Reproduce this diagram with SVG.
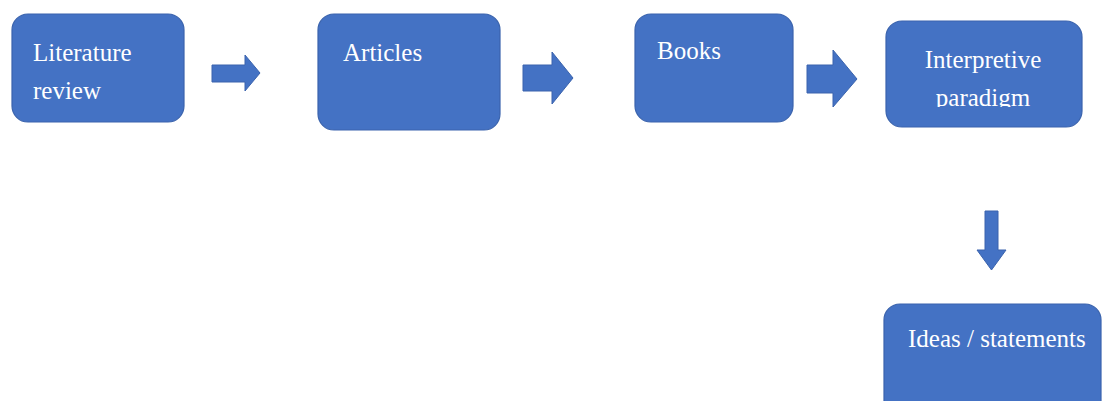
<svg xmlns="http://www.w3.org/2000/svg" width="1102" height="401" viewBox="0 0 1102 401">
<style>
.box{fill:#4472C4;stroke:#3A63AD;stroke-width:1.2}
.arr{fill:#4472C4;stroke:#3A63AD;stroke-width:1}
text{font-family:"Liberation Serif","Times New Roman",serif;font-size:25px;fill:#FFFFFF}
</style>
<defs>
<clipPath id="clip4"><rect x="886" y="21" width="196" height="86"/></clipPath>
</defs>
<rect width="1102" height="401" fill="#FFFFFF"/>
<g id="connectors">
<path class="arr" d="M212,65 H245 V55 L260,73 L245,91 V82 H212 Z"/>
<path class="arr" d="M523,65 H552 V52 L573,78 L552,104 V91 H523 Z"/>
<path class="arr" d="M807,65 H833 V50 L857,79 L833,107 V93 H807 Z"/>
<path class="arr" d="M985,211 H998 V250 H1006 L991.5,270 L977,250 H985 Z"/>
</g>
<g id="n1">
<rect class="box" x="12" y="14" width="172" height="108" rx="16"/>
<text x="33" y="61">Literature</text>
<text x="33" y="99">review</text>
</g>
<g id="n2">
<rect class="box" x="318" y="14" width="182" height="116" rx="16"/>
<text x="343" y="61">Articles</text>
</g>
<g id="n3">
<rect class="box" x="635" y="14" width="158" height="108" rx="16"/>
<text x="657" y="59">Books</text>
</g>
<g id="n4">
<rect class="box" x="886" y="21" width="196" height="106" rx="16"/>
<g clip-path="url(#clip4)">
<text x="983" y="68" text-anchor="middle">Interpretive</text>
<text x="983" y="106" text-anchor="middle">paradigm</text>
</g>
</g>
<g id="n5">
<rect class="box" x="884" y="304" width="217" height="120" rx="16"/>
<text x="908" y="347">Ideas / statements</text>
</g>
</svg>
